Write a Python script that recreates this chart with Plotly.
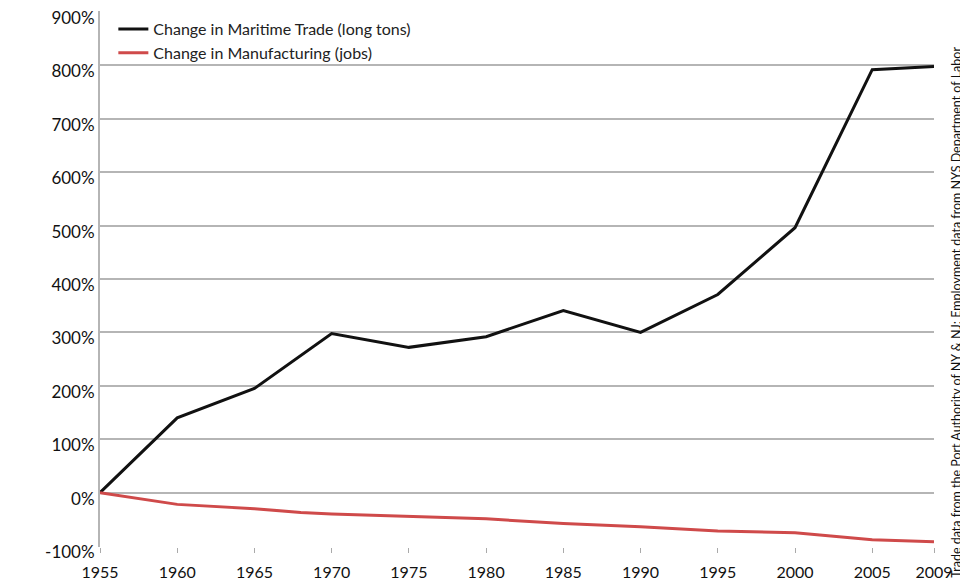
import plotly.graph_objects as go

years = [1955, 1960, 1965, 1970, 1975, 1980, 1985, 1990, 1995, 2000, 2005, 2009]
maritime = [0, 140, 195, 298, 272, 292, 341, 300, 371, 496, 792, 798]
mfg_years = [1955, 1960, 1965, 1968, 1970, 1975, 1980, 1985, 1990, 1995, 2000, 2005, 2009]
manufacturing = [0, -22, -30, -37, -40, -45, -49, -58, -64, -72, -75, -88, -92]

x_ticks = [1955, 1960, 1965, 1970, 1975, 1980, 1985, 1990, 1995, 2000, 2005, 2009]
y_ticks = [-100, 0, 100, 200, 300, 400, 500, 600, 700, 800, 900]
y_labels = [f"{v}%" for v in y_ticks]

source_note = "Trade data from the Port Authority of NY & NJ; Employment data from NYS Department of Labor"

fig = go.Figure()
fig.add_trace(go.Scatter(x=years, y=maritime, mode="lines",
                         name="Change in Maritime Trade (long tons)",
                         line=dict(color="#111111", width=3)))
fig.add_trace(go.Scatter(x=mfg_years, y=manufacturing, mode="lines",
                         name="Change in Manufacturing (jobs)",
                         line=dict(color="#cf4a4a", width=3)))

fig.update_layout(
    width=960, height=576,
    margin=dict(l=92, r=34, t=3, b=37, autoexpand=False),
    paper_bgcolor="white", plot_bgcolor="white",
    font=dict(family="Lato", color="#111111"),
    showlegend=True,
    legend=dict(x=0.016, y=0.998, xanchor="left", yanchor="top",
                bgcolor="rgba(0,0,0,0)", font=dict(size=16, color="#222222"),
                tracegroupgap=0, itemwidth=30),
    xaxis=dict(range=[1955, 2009], tickvals=x_ticks, ticktext=[str(v) for v in x_ticks],
               showgrid=False, zeroline=False, showline=False, automargin=False,
               ticks="outside", ticklen=5, tickcolor="#aaaaaa",
               ticklabeloverflow="allow", ticklabelstandoff=6,
               tickfont=dict(size=16, color="#111111")),
    yaxis=dict(range=[-101.8, 901.8], tickvals=y_ticks, ticktext=y_labels, automargin=False,
               showgrid=True, gridcolor="#b5b5b5", gridwidth=1.5,
               zeroline=False, showline=True, linecolor="#b5b5b5", linewidth=2,
               ticks="", ticklabeloverflow="allow", ticklabelshift=6,
               tickfont=dict(size=17, color="#111111")),
    annotations=[dict(
        text=source_note,
        xref="paper", yref="paper", x=1.0, y=-0.062, xshift=23,
        xanchor="center", yanchor="bottom", textangle=-90, showarrow=False,
        font=dict(size=12.5, color="#111111", family="Lato"))],
)

fig.write_html("out.html")
